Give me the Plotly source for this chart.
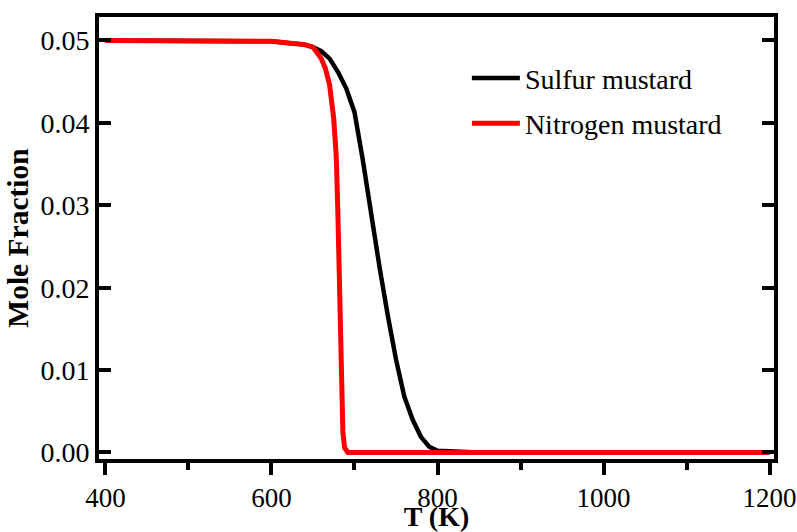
import plotly.graph_objects as go

# Temperature (K) and mole fraction values
T_sulfur = [400, 450, 500, 550, 600, 620, 640, 650, 660, 670, 680, 690, 700,
            710, 720, 730, 740, 750, 760, 770, 780, 790, 800, 850, 900, 950,
            1000, 1050, 1100, 1150, 1200]
sulfur = [0.0500, 0.0500, 0.0500, 0.0500, 0.0499, 0.0497, 0.0495, 0.0492,
          0.0487, 0.0478, 0.0462, 0.0442, 0.0413, 0.0355, 0.0286, 0.0226,
          0.0167, 0.0113, 0.0068, 0.0040, 0.0019, 0.0007, 0.0002, 0, 0, 0,
          0, 0, 0, 0, 0]

T_nitrogen = [400, 450, 500, 550, 600, 620, 640, 650, 660, 665, 670, 675, 678,
              680, 682, 684, 686, 688, 690, 692, 700, 800, 900, 1000, 1100, 1200]
nitrogen = [0.0500, 0.0500, 0.0500, 0.0500, 0.0499, 0.0497, 0.0495, 0.0492,
            0.0478, 0.0466, 0.0446, 0.0405, 0.0360, 0.0290, 0.0180, 0.0095,
            0.0025, 0.0006, 0.0001, 0, 0, 0, 0, 0, 0, 0]

x_ticks = [400, 600, 800, 1000, 1200]
y_ticks = [0.00, 0.01, 0.02, 0.03, 0.04, 0.05]
y_tick_labels = ["0.00", "0.01", "0.02", "0.03", "0.04", "0.05"]

FONT = "Liberation Serif"

fig = go.Figure()
fig.add_trace(go.Scatter(x=T_sulfur, y=sulfur, mode="lines", name="Sulfur mustard",
                         line=dict(color="#000000", width=4.5), legendgroup="a"))
fig.add_trace(go.Scatter(x=T_nitrogen, y=nitrogen, mode="lines", name="Nitrogen mustard",
                         line=dict(color="#ff0000", width=5), legendgroup="b"))

fig.update_layout(
    template="none",
    width=797, height=532,
    margin=dict(l=99, r=23, t=17, b=73, autoexpand=False),
    paper_bgcolor="white", plot_bgcolor="white",
    font=dict(family=FONT, size=28, color="black"),
    showlegend=True,
    legend=dict(x=0.545, y=0.918, xanchor="left", yanchor="top",
                bgcolor="rgba(0,0,0,0)", borderwidth=0, font=dict(family=FONT, size=28),
                tracegroupgap=6, traceorder="grouped", itemwidth=48),
)
fig.update_xaxes(
    automargin=False,
    range=[392.2, 1205.4], tickmode="array", tickvals=x_ticks,
    ticks="outside", ticklen=12, tickwidth=4, tickcolor="black",
    tickfont=dict(family=FONT, size=27), ticklabeloverflow="allow",
    minor=dict(dtick=100, tick0=400, ticks="outside", ticklen=7, tickwidth=4, tickcolor="black"),
    showline=True, linewidth=4, linecolor="black", mirror=True,
    showgrid=False, zeroline=False,
    title=dict(text="<b>T (K)</b>", font=dict(family=FONT, size=28), standoff=3),
)
fig.update_yaxes(
    automargin=False,
    range=[-0.00079, 0.05285], tickmode="array", tickvals=y_ticks, ticktext=y_tick_labels,
    ticks="inside", ticklen=12, tickwidth=4, tickcolor="black",
    tickfont=dict(family=FONT, size=28), ticklabeloverflow="allow",
    showline=True, linewidth=4, linecolor="black", mirror="ticks",
    showgrid=False, zeroline=False,
    title=dict(text="<b>Mole Fraction</b>", font=dict(family=FONT, size=29.5), standoff=4),
)

fig.write_html("out.html",
               config={"displayModeBar": False},
               post_script="document.body.style.margin='0';document.body.style.overflow='hidden';")
